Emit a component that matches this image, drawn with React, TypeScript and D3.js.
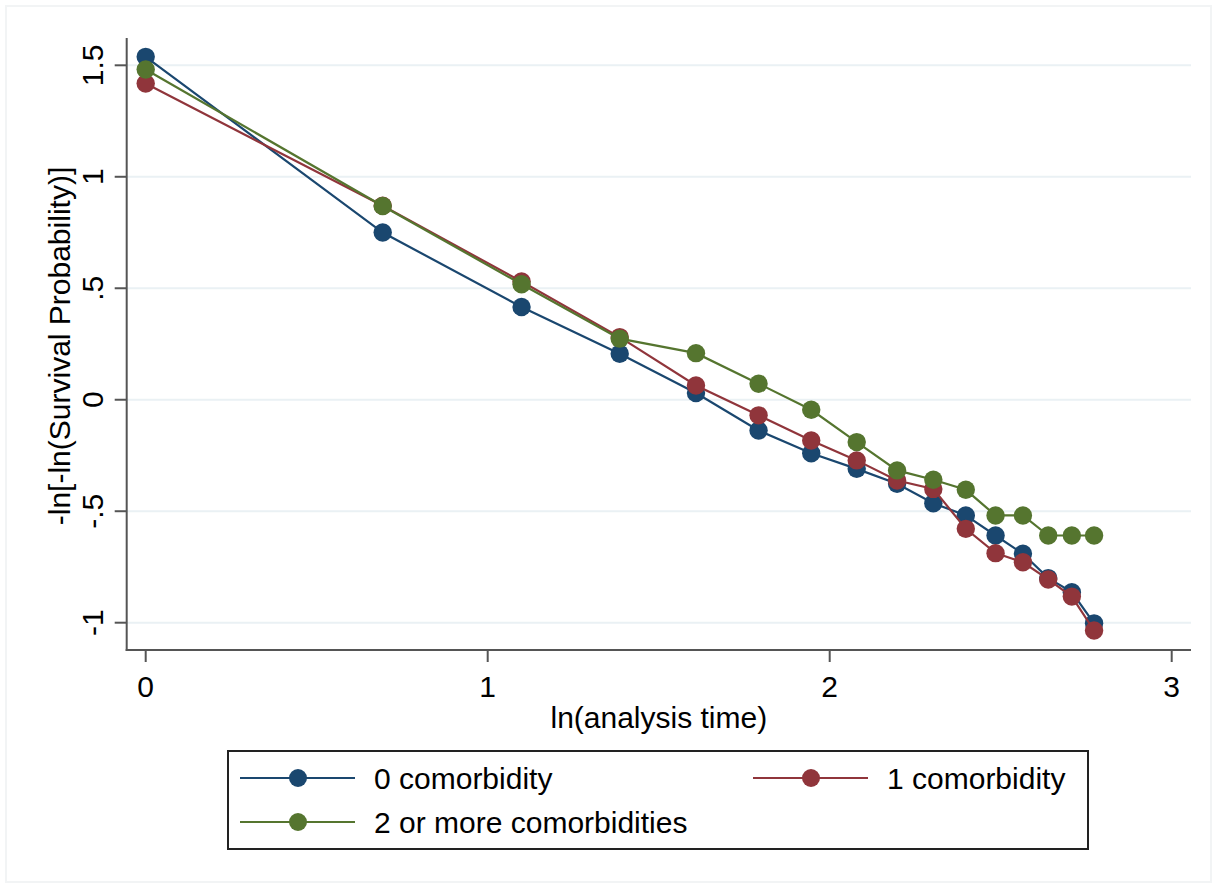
import React from "react";
import * as d3 from "d3";

const xTimes = [0, 0.693, 1.099, 1.386, 1.609, 1.792, 1.946, 2.079, 2.197, 2.303, 2.398, 2.485, 2.565, 2.639, 2.708, 2.773];
const seriesNames = ["0 comorbidity", "1 comorbidity", "2 or more comorbidities"];
const blueVals = [1.538, 0.75, 0.416, 0.206, 0.03, -0.138, -0.24, -0.31, -0.377, -0.464, -0.519, -0.609, -0.691, -0.8, -0.863, -1.003];
const redVals = [1.418, 0.87, 0.53, 0.281, 0.064, -0.07, -0.183, -0.272, -0.362, -0.4, -0.579, -0.688, -0.729, -0.806, -0.883, -1.035];
const greenVals = [1.481, 0.869, 0.518, 0.274, 0.209, 0.072, -0.045, -0.19, -0.317, -0.359, -0.404, -0.519, -0.519, -0.609, -0.609, -0.609];
const colors = ["#1a476f", "#90353b", "#55752f"];
const yTicks = [-1, -0.5, 0, 0.5, 1, 1.5];
const yTickLabels = ["-1", "-.5", "0", ".5", "1", "1.5"];
const xTicks = [0, 1, 2, 3];
const xTickLabels = ["0", "1", "2", "3"];
const xTitle = "ln(analysis time)";
const yTitle = "-ln[-ln(Survival Probability)]";

const FONT = "'Liberation Sans', Arial, sans-serif";

export default function App() {
  const x = d3.scaleLinear().domain([0, 3]).range([145.7, 1171.7]);
  const y = d3.scaleLinear().domain([-1, 1.5]).range([622.7, 65.3]);
  const plotLeft = 126.7, plotRight = 1191, plotTop = 38, plotBottom = 650;
  const allVals = [blueVals, redVals, greenVals];
  const line = d3.line<[number, number]>().x(d => x(d[0])).y(d => y(d[1]));
  const fs = 30;

  const legendItems = [
    { i: 0, lx: 240, tx: 374, ly: 778 },
    { i: 1, lx: 753, tx: 887, ly: 778 },
    { i: 2, lx: 240, tx: 374, ly: 822 },
  ];

  return (
    <svg width={1217} height={888} style={{ position: "absolute", left: 0, top: 0 }} fontFamily={FONT}>
      <rect x={0} y={0} width={1217} height={888} fill="#ffffff" />
      <rect x={6} y={6} width={1205} height={876} fill="none" stroke="#f2f4f5" strokeWidth={2} />
      {yTicks.map((t, k) => (
        <line key={"g" + k} x1={plotLeft} x2={plotRight} y1={y(t)} y2={y(t)} stroke="#eaf1f4" strokeWidth={2} />
      ))}
      {allVals.map((vals, si) => {
        const pts: [number, number][] = xTimes.map((xv, j) => [xv, vals[j]]);
        return (
          <g key={"s" + si}>
            <path d={line(pts) || ""} fill="none" stroke={colors[si]} strokeWidth={2.2} />
            {pts.map((p, j) => (
              <circle key={j} cx={x(p[0])} cy={y(p[1])} r={9.2} fill={colors[si]} />
            ))}
          </g>
        );
      })}
      <line x1={plotLeft} x2={plotLeft} y1={plotTop} y2={plotBottom + 1} stroke="#555" strokeWidth={2} />
      <line x1={plotLeft - 1} x2={plotRight} y1={plotBottom} y2={plotBottom} stroke="#555" strokeWidth={2} />
      {yTicks.map((t, k) => (
        <g key={"yt" + k}>
          <line x1={plotLeft - 12} x2={plotLeft} y1={y(t)} y2={y(t)} stroke="#555" strokeWidth={2} />
          <text transform={`translate(${plotLeft - 24},${y(t)}) rotate(-90)`} textAnchor="middle" fontSize={fs} fill="#000">
            {yTickLabels[k]}
          </text>
        </g>
      ))}
      {xTicks.map((t, k) => (
        <g key={"xt" + k}>
          <line x1={x(t)} x2={x(t)} y1={plotBottom} y2={plotBottom + 12} stroke="#555" strokeWidth={2} />
          <text x={x(t)} y={plotBottom + 47} textAnchor="middle" fontSize={fs} fill="#000">
            {xTickLabels[k]}
          </text>
        </g>
      ))}
      <text x={(plotLeft + plotRight) / 2} y={728} textAnchor="middle" fontSize={fs} fill="#000">{xTitle}</text>
      <text transform={`translate(70,${(plotTop + plotBottom) / 2 + 2}) rotate(-90)`} textAnchor="middle" fontSize={fs} fill="#000">{yTitle}</text>
      <rect x={228} y={751} width={860} height={98} fill="#fff" stroke="#222" strokeWidth={2} />
      {legendItems.map(it => (
        <g key={"l" + it.i}>
          <line x1={it.lx} x2={it.lx + 115} y1={it.ly} y2={it.ly} stroke={colors[it.i]} strokeWidth={2.2} />
          <circle cx={it.lx + 58} cy={it.ly} r={9} fill={colors[it.i]} />
          <text x={it.tx} y={it.ly + 11} fontSize={fs} fill="#000">{seriesNames[it.i]}</text>
        </g>
      ))}
    </svg>
  );
}
